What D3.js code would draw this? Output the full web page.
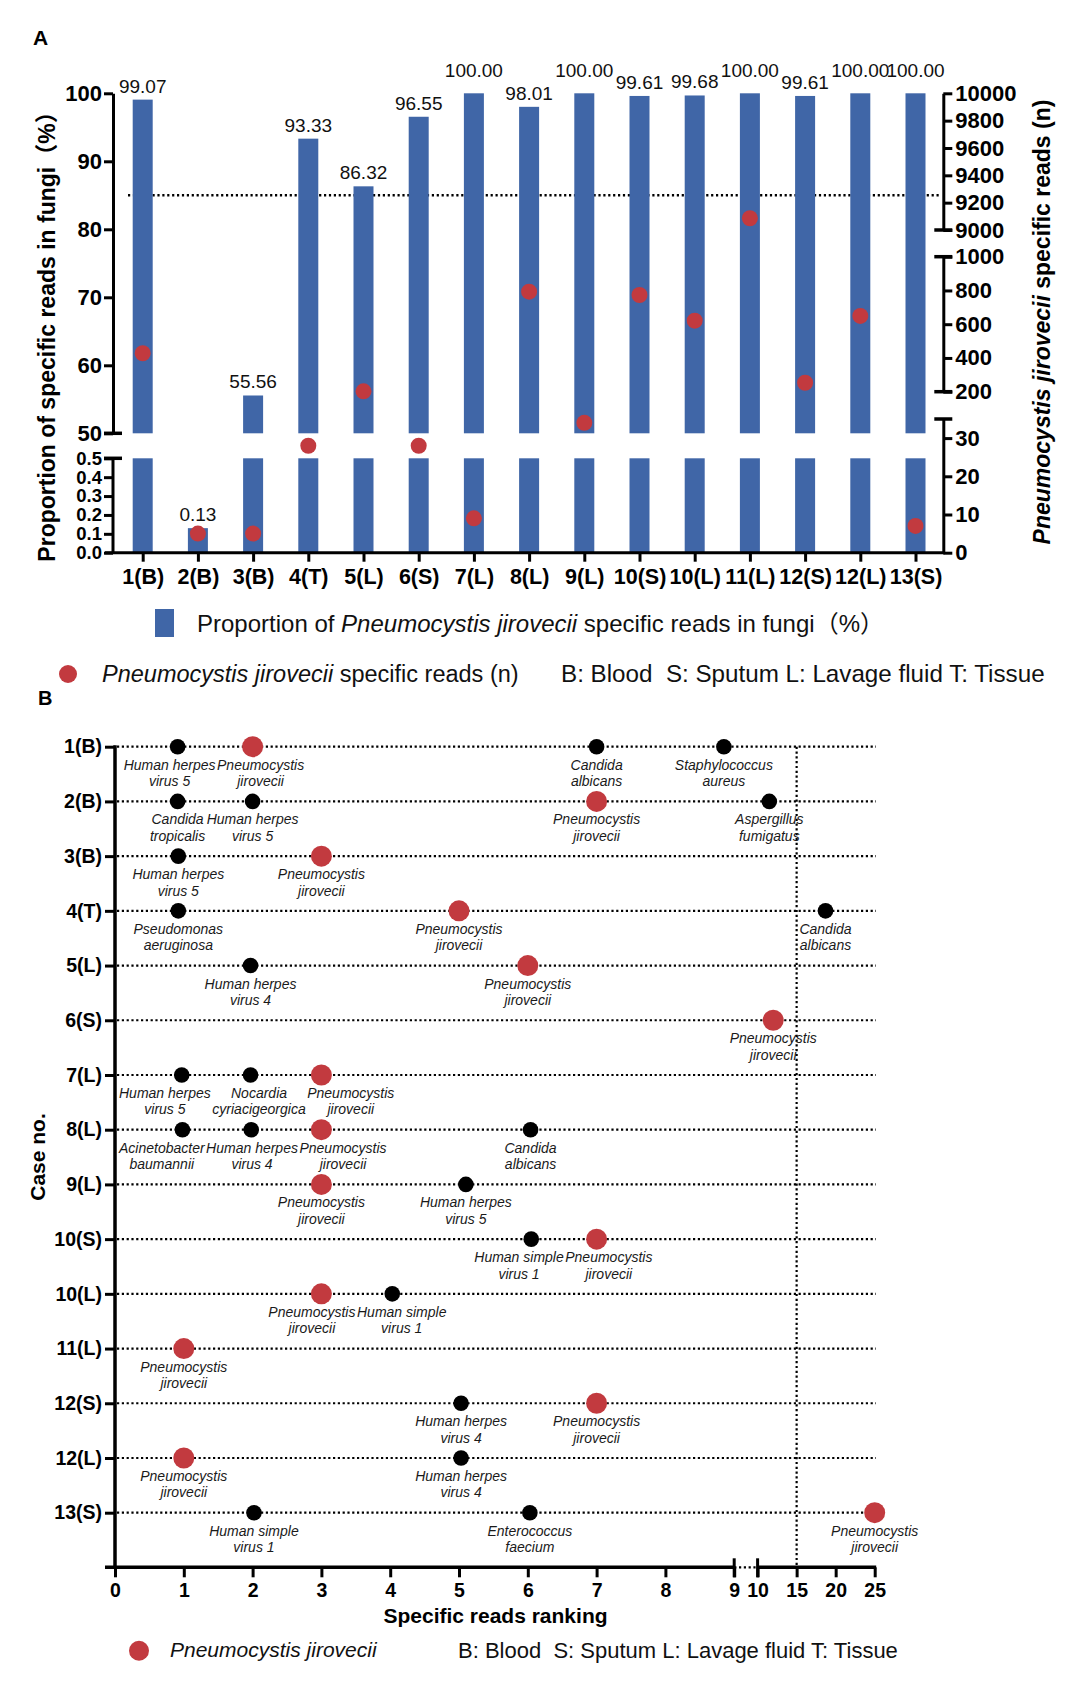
<!DOCTYPE html>
<html><head><meta charset="utf-8">
<script src="https://cdn.jsdelivr.net/npm/d3@7"></script>
<style>
body{margin:0;background:#fff;}
svg text{font-family:"Liberation Sans",Arial,Helvetica,"Noto Sans CJK SC",sans-serif;}
</style></head><body>
<svg id="c" width="1080" height="1688" xmlns="http://www.w3.org/2000/svg"></svg>
<script>
// ---------- Panel A data ----------
const cases = ["1(B)","2(B)","3(B)","4(T)","5(L)","6(S)","7(L)","8(L)","9(L)","10(S)","10(L)","11(L)","12(S)","12(L)","13(S)"];
const proportion = [99.07,0.13,55.56,93.33,86.32,96.55,100.00,98.01,100.00,99.61,99.68,100.00,99.61,100.00,100.00];
const pjReads = [428,5,5,28,202,28,9,793,34,773,621,9086,253,649,7];
const leftTicksUpper = [50,60,70,80,90,100];
const leftTicksLower = [0,0.1,0.2,0.3,0.4,0.5];
const rightTicksUpper = [9000,9200,9400,9600,9800,10000];
const rightTicksMid = [200,400,600,800,1000];
const rightTicksLower = [0,10,20,30];
const proportionCutoff = 85;

// ---------- Panel B data ----------
const rankCases = cases;
const rankHits = [
 [["Human herpes virus 5",0.91],["Pneumocystis jirovecii",2],["Candida albicans",7],["Staphylococcus aureus",8.85]],
 [["Candida tropicalis",0.91],["Human herpes virus 5",2],["Pneumocystis jirovecii",7],["Aspergillus fumigatus",11.5]],
 [["Human herpes virus 5",0.92],["Pneumocystis jirovecii",3]],
 [["Pseudomonas aeruginosa",0.92],["Pneumocystis jirovecii",5],["Candida albicans",18.7]],
 [["Human herpes virus 4",1.97],["Pneumocystis jirovecii",6]],
 [["Pneumocystis jirovecii",12]],
 [["Human herpes virus 5",0.97],["Nocardia cyriacigeorgica",1.97],["Pneumocystis jirovecii",3]],
 [["Acinetobacter baumannii",0.98],["Human herpes virus 4",1.98],["Pneumocystis jirovecii",3],["Candida albicans",6.04]],
 [["Pneumocystis jirovecii",3],["Human herpes virus 5",5.1]],
 [["Human simple virus 1",6.05],["Pneumocystis jirovecii",7]],
 [["Pneumocystis jirovecii",3],["Human simple virus 1",4.03]],
 [["Pneumocystis jirovecii",1]],
 [["Human herpes virus 4",5.03],["Pneumocystis jirovecii",7]],
 [["Pneumocystis jirovecii",1],["Human herpes virus 4",5.03]],
 [["Human simple virus 1",2.02],["Enterococcus faecium",6.03],["Pneumocystis jirovecii",25]]
];
const rankTicksLow = [0,1,2,3,4,5,6,7,8,9];
const rankTicksHigh = [10,15,20,25];
const rankCutoff = 15;
const PJ = "Pneumocystis jirovecii";

// ---------- drawing ----------
const FONT = '"Liberation Sans", Arial, Helvetica, "Noto Sans CJK SC", sans-serif';
const blue = "#4066a7", red = "#c23a3f";
const svg = d3.select("#c");

function styleAxis(g, fs, weight){
  g.attr("font-family", FONT);
  g.selectAll("path.domain").attr("stroke","#000").attr("stroke-width",3);
  g.selectAll(".tick line").attr("stroke","#000").attr("stroke-width",3);
  g.selectAll(".tick text").attr("fill","#000").attr("font-size",fs).attr("font-weight",weight||"bold");
}
function hline(x1,x2,y,w,dash){
  const l = svg.append("line").attr("x1",x1).attr("x2",x2).attr("y1",y).attr("y2",y).attr("stroke","#000").attr("stroke-width",w);
  if(dash) l.attr("stroke-dasharray",dash);
  return l;
}
function vline(x,y1,y2,w,dash){
  const l = svg.append("line").attr("x1",x).attr("x2",x).attr("y1",y1).attr("y2",y2).attr("stroke","#000").attr("stroke-width",w);
  if(dash) l.attr("stroke-dasharray",dash);
  return l;
}

// Panel labels
svg.append("text").attr("x",33).attr("y",45).attr("font-size",21).attr("font-weight","bold").text("A");
svg.append("text").attr("x",38).attr("y",705).attr("font-size",20).attr("font-weight","bold").text("B");

// ===== Panel A =====
const xA = d3.scalePoint().domain(cases).range([142.7, 915.5]);
const yUp = d3.scaleLinear().domain([50,100]).range([433.3,93.3]);
const yLo = d3.scaleLinear().domain([0,0.5]).range([552.7,458.3]);
const rUp = d3.scaleLinear().domain([9000,10000]).range([230,93.3]);
const rMid = d3.scaleLinear().domain([200,1000]).range([391.7,256.7]);
const rLo = d3.scaleLinear().domain([0,35]).range([552.7,419]);
const rY = v => v >= 9000 ? rUp(v) : (v >= 200 ? rMid(v) : rLo(v));
const axL = 113, axR = 943.3, baseA = yLo(0);

// cutoff dotted line (behind bars)
hline(128, axR-2, yUp(proportionCutoff), 2.4, "2.2,2.7");

const barW = 20;
const dataA = cases.map((c,i)=>({c, p:proportion[i], n:pjReads[i]}));
const gb = svg.append("g");
gb.selectAll("rect.lo").data(dataA).join("rect").attr("class","lo")
  .attr("x",d=>xA(d.c)-barW/2).attr("width",barW)
  .attr("y",d=>yLo(Math.min(d.p,0.5))).attr("height",d=>yLo(0)-yLo(Math.min(d.p,0.5)))
  .attr("fill",blue);
gb.selectAll("rect.up").data(dataA.filter(d=>d.p>50)).join("rect").attr("class","up")
  .attr("x",d=>xA(d.c)-barW/2).attr("width",barW)
  .attr("y",d=>yUp(d.p)).attr("height",d=>yUp(50)-yUp(d.p))
  .attr("fill",blue);
gb.selectAll("text.val").data(dataA).join("text").attr("class","val")
  .attr("x",d=>xA(d.c)).attr("y",d=>(d.p>0.5?yUp(d.p):yLo(d.p)) - (d.p>=100?16:7))
  .attr("text-anchor","middle").attr("font-size",19).attr("fill","#111")
  .text(d=>d.p.toFixed(2));

// red dots
gb.selectAll("circle.rd").data(dataA).join("circle").attr("class","rd")
  .attr("cx",d=>xA(d.c)).attr("cy",d=>rY(d.n)).attr("r",8).attr("fill",red);

// left axis segments
const gl1 = svg.append("g").attr("transform",`translate(${axL},0)`)
  .call(d3.axisLeft(yUp).tickValues(leftTicksUpper).tickSize(9).tickSizeOuter(0).tickPadding(2).tickFormat(d3.format("d")));
styleAxis(gl1,22);
const gl2 = svg.append("g").attr("transform",`translate(${axL},0)`)
  .call(d3.axisLeft(yLo).tickValues(leftTicksLower).tickSize(9).tickSizeOuter(0).tickPadding(2).tickFormat(d3.format(".1f")));
styleAxis(gl2,18.5);
gl2.select("path.domain").remove();
vline(axL, yLo(0.5), baseA, 3);
hline(axL-9, axL+9, yUp(50), 3.5);
hline(axL-9, axL+9, yLo(0.5), 3.5);

// right axis segments
const gr1 = svg.append("g").attr("transform",`translate(${axR},0)`)
  .call(d3.axisRight(rUp).tickValues(rightTicksUpper).tickSize(9).tickSizeOuter(0).tickPadding(3).tickFormat(d3.format("d")));
styleAxis(gr1,22);
const gr2 = svg.append("g").attr("transform",`translate(${axR},0)`)
  .call(d3.axisRight(rMid).tickValues(rightTicksMid).tickSize(9).tickSizeOuter(0).tickPadding(3).tickFormat(d3.format("d")));
styleAxis(gr2,22);
const gr3 = svg.append("g").attr("transform",`translate(${axR},0)`)
  .call(d3.axisRight(rLo).tickValues(rightTicksLower).tickSize(9).tickSizeOuter(0).tickPadding(3).tickFormat(d3.format("d")));
styleAxis(gr3,22);
hline(axR-9, axR+9, rUp(9000), 3.5);
hline(axR-9, axR+9, rMid(1000), 3.5);
hline(axR-9, axR+9, rMid(200), 3.5);
hline(axR-9, axR+9, rLo(35), 3.5);

// bottom axis A
hline(105, axR+1.5, baseA, 3);
const gx = svg.append("g").attr("transform",`translate(0,${baseA})`)
  .call(d3.axisBottom(xA).tickSize(9).tickSizeOuter(0));
styleAxis(gx,21.5);
gx.select("path.domain").remove();
gx.selectAll(".tick text").attr("dy",null).attr("y",31);

// axis titles A
const tl = svg.append("text").attr("transform","translate(55,331) rotate(-90)")
  .attr("text-anchor","middle").attr("font-size",23).attr("font-weight","bold");
tl.append("tspan").text("Proportion of specific reads in fungi（%）");
const tr = svg.append("text").attr("transform","translate(1050,322) rotate(-90)")
  .attr("text-anchor","middle").attr("font-size",23).attr("font-weight","bold");
tr.append("tspan").attr("font-style","italic").text("Pneumocystis jirovecii");
tr.append("tspan").text(" specific reads (n)");

// legend A
svg.append("rect").attr("x",155).attr("y",609).attr("width",19).attr("height",28).attr("fill",blue);
const lg1 = svg.append("text").attr("x",197).attr("y",632).attr("font-size",24).attr("fill","#111");
lg1.append("tspan").text("Proportion of ");
lg1.append("tspan").attr("font-style","italic").text("Pneumocystis jirovecii");
lg1.append("tspan").text(" specific reads in fungi（%）");
svg.append("circle").attr("cx",68).attr("cy",674).attr("r",9).attr("fill",red);
const lg2 = svg.append("text").attr("x",102).attr("y",682).attr("font-size",23.5).attr("fill","#111");
lg2.append("tspan").attr("font-style","italic").text("Pneumocystis jirovecii");
lg2.append("tspan").text(" specific reads (n)");
svg.append("text").attr("x",561).attr("y",682).attr("font-size",24.2).attr("fill","#111")
  .style("white-space","pre").text("B: Blood  S: Sputum L: Lavage fluid T: Tissue");

// ===== Panel B =====
const xB1 = d3.scaleLinear().domain([0,9]).range([115,734.2]);
const xB2 = d3.scaleLinear().domain([10,25]).range([757.6,874.7]);
const xR = v => v <= 9 ? xB1(v) : xB2(v);
const yB = d3.scalePoint().domain(rankCases).range([746.7,1512.7]);
const axB = 1567.3, axBx = 115;

// horizontal dotted lines
rankCases.forEach(c => hline(axBx+2, 876, yB(c), 2.2, "2.2,2.6"));
// vertical dotted cutoff
vline(xR(rankCutoff), yB(rankCases[0]), axB, 2.2, "2.2,2.6");

// left axis B
const gyb = svg.append("g").attr("transform",`translate(${axBx},0)`)
  .call(d3.axisLeft(yB).tickSize(10).tickSizeOuter(0).tickPadding(3));
styleAxis(gyb,19.5);
gyb.select("path.domain").remove();
vline(axBx, yB(rankCases[0])-1.5, axB+1.5, 3.5);

// bottom axis B
hline(105, xB1(9), axB, 3.5);
hline(xB1(9), xB2(10), axB, 2.2, "2.2,2.6");
hline(xB2(10), xB2(25)+1.5, axB, 3.5);
const gxb1 = svg.append("g").attr("transform",`translate(0,${axB})`)
  .call(d3.axisBottom(xB1).tickValues(rankTicksLow).tickSize(10).tickSizeOuter(0).tickFormat(d3.format("d")));
styleAxis(gxb1,19.5); gxb1.select("path.domain").remove();
const gxb2 = svg.append("g").attr("transform",`translate(0,${axB})`)
  .call(d3.axisBottom(xB2).tickValues(rankTicksHigh).tickSize(10).tickSizeOuter(0).tickFormat(d3.format("d")));
styleAxis(gxb2,19.5); gxb2.select("path.domain").remove();
[gxb1,gxb2].forEach(g=>g.selectAll(".tick text").attr("dy",null).attr("y",30));
vline(xB1(9), axB-9, axB+10, 3);
vline(xB2(10), axB-9, axB+10, 3);

// points
const pts = [];
rankHits.forEach((row,i)=>row.forEach(([name,rank])=>pts.push({c:rankCases[i], row:i, name, rank})));
const gp = svg.append("g");
gp.selectAll("circle").data(pts).join("circle")
  .attr("cx",d=>xR(d.rank)).attr("cy",d=>yB(d.c))
  .attr("r",d=>d.name===PJ?10.5:7.8).attr("fill",d=>d.name===PJ?red:"#000");

// labels (two lines, spread apart within a row when they would collide)
function splitName(n){
  const k = n.indexOf(" virus");
  if(k>0) return [n.slice(0,k), n.slice(k+1)];
  const s = n.indexOf(" ");
  return [n.slice(0,s), n.slice(s+1)];
}
const gt = svg.append("g");
pts.forEach(d=>{
  const [a,b] = splitName(d.name);
  d.cx = xR(d.rank);
  const t = gt.append("text").attr("text-anchor","middle").attr("font-size",14)
    .attr("font-style","italic").attr("fill","#1a1a1a");
  const s1 = t.append("tspan").attr("y",yB(d.c)+23).text(a);
  const s2 = t.append("tspan").attr("y",yB(d.c)+39.5).text(b);
  d.spans = [s1,s2];
  d.w = Math.max(s1.node().getComputedTextLength(), s2.node().getComputedTextLength());
});
const leftLimit = axBx + 4;
d3.groups(pts, d=>d.row).forEach(([r, items])=>{
  items.sort((p,q)=>p.cx-q.cx);
  for(let it=0; it<60; it++){
    for(let i=0;i<items.length-1;i++){
      const A=items[i], Bp=items[i+1];
      const ov = (A.cx + A.w/2 + 1.5) - (Bp.cx - Bp.w/2);
      if(ov>0){ A.cx -= ov/2; Bp.cx += ov/2; }
    }
    const f = items[0];
    if(f.cx - f.w/2 < leftLimit) f.cx = leftLimit + f.w/2;
  }
  items.forEach(d=>d.spans.forEach(s=>s.attr("x",d.cx)));
});

// titles B
svg.append("text").attr("x",495.5).attr("y",1623).attr("text-anchor","middle")
  .attr("font-size",21).attr("font-weight","bold").text("Specific reads ranking");
svg.append("text").attr("transform","translate(45,1157) rotate(-90)").attr("text-anchor","middle")
  .attr("font-size",21).attr("font-weight","bold").text("Case no.");

// legend B
svg.append("circle").attr("cx",139).attr("cy",1650.7).attr("r",10).attr("fill",red);
svg.append("text").attr("x",170).attr("y",1657).attr("font-size",21).attr("font-style","italic").attr("fill","#111").text(PJ);
svg.append("text").attr("x",458).attr("y",1658).attr("font-size",22).attr("fill","#111")
  .style("white-space","pre").text("B: Blood  S: Sputum L: Lavage fluid T: Tissue");
</script>
</body></html>
